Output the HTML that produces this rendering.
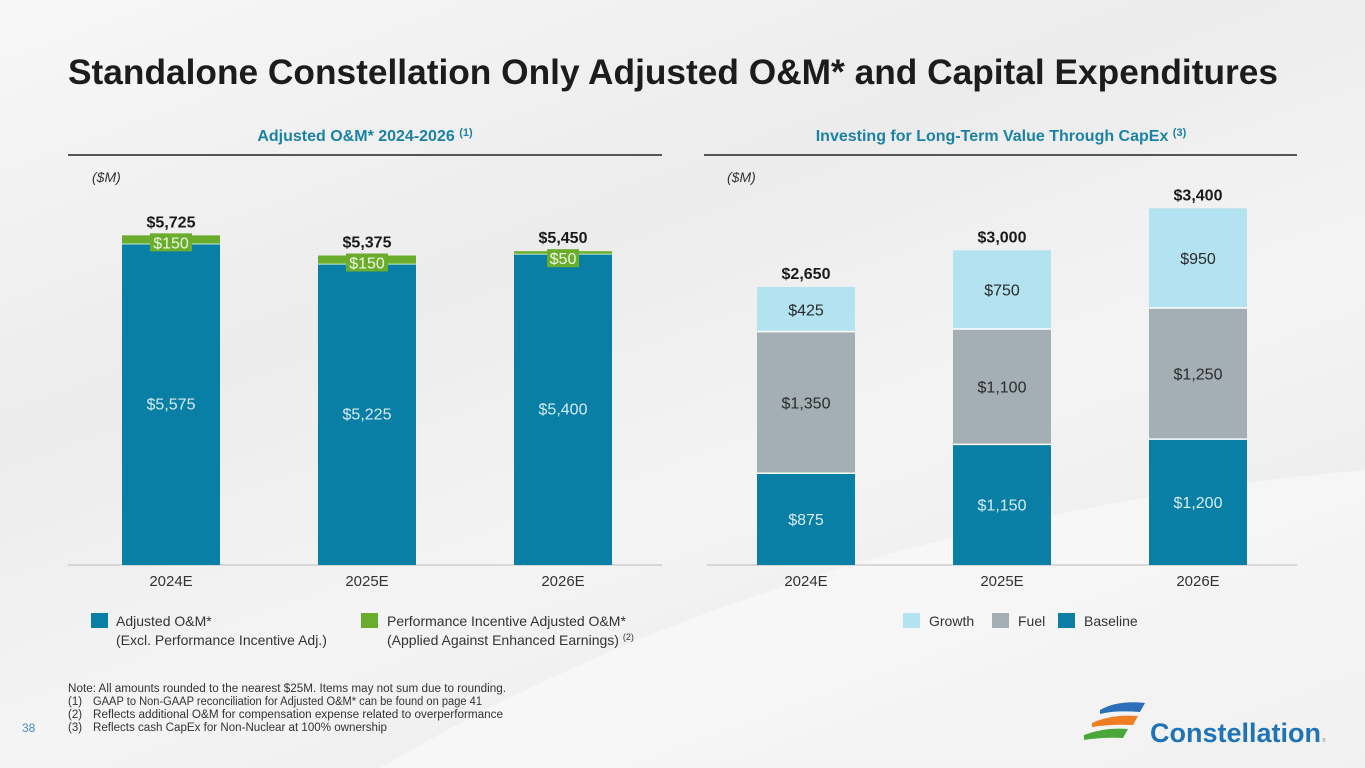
<!DOCTYPE html>
<html><head><meta charset="utf-8">
<style>
html,body{margin:0;padding:0;}
body{width:1365px;height:768px;overflow:hidden;position:relative;font-family:"Liberation Sans",sans-serif;
background:linear-gradient(160deg,#f7f7f7 0%,#ececec 35%,#f4f4f4 60%,#e6e6e6 100%);}
svg{position:absolute;left:0;top:0;}
</style></head>
<body>
<svg id="chart" width="1365" height="768">
  <path d="M380 768 Q800 520 1365 470 L1365 768 Z" fill="#ffffff" opacity="0.45"/>
  <text x="68" y="84" font-size="35" font-weight="bold" fill="#1c1c1c" textLength="1210" lengthAdjust="spacingAndGlyphs">Standalone Constellation Only Adjusted O&amp;M* and Capital Expenditures</text>
  <text x="365" y="141" font-size="16" font-weight="bold" fill="#1b82a5" text-anchor="middle">Adjusted O&amp;M* 2024-2026 <tspan font-size="11" dy="-5">(1)</tspan></text>
  <line x1="68" y1="155" x2="662" y2="155" stroke="#222" stroke-width="1.5"/>
  <text x="1001" y="141" font-size="16" font-weight="bold" fill="#1b82a5" text-anchor="middle">Investing for Long-Term Value Through CapEx <tspan font-size="11" dy="-5">(3)</tspan></text>
  <line x1="704" y1="155" x2="1297" y2="155" stroke="#222" stroke-width="1.5"/>
  <text x="92" y="182" font-size="14" font-style="italic" fill="#333">($M)</text>
  <text x="727" y="182" font-size="14" font-style="italic" fill="#333">($M)</text>
  <line x1="68" y1="565" x2="662" y2="565" stroke="#bbb" stroke-width="1"/>
  <line x1="707" y1="565" x2="1297" y2="565" stroke="#bbb" stroke-width="1"/>
  <g id="left"></g>
  <g id="right"></g>
  <rect x="91" y="613" width="17" height="15" fill="#0a7fa5"/>
  <text x="116" y="626" font-size="14" fill="#333">Adjusted O&amp;M*</text>
  <text x="116" y="645" font-size="14" fill="#333">(Excl. Performance Incentive Adj.)</text>
  <rect x="361" y="613" width="17" height="15" fill="#6aac2b"/>
  <text x="387" y="626" font-size="14" fill="#333">Performance Incentive Adjusted O&amp;M*</text>
  <text x="387" y="645" font-size="14" fill="#333">(Applied Against Enhanced Earnings) <tspan font-size="9" dy="-5">(2)</tspan></text>
  <rect x="903" y="613" width="17" height="15" fill="#b3e2f1"/>
  <text x="929" y="626" font-size="14" fill="#333">Growth</text>
  <rect x="992" y="613" width="17" height="15" fill="#a3aeb5"/>
  <text x="1018" y="626" font-size="14" fill="#333">Fuel</text>
  <rect x="1058" y="613" width="17" height="15" fill="#0a7fa5"/>
  <text x="1084" y="626" font-size="14" fill="#333">Baseline</text>
  <g font-size="11.5" fill="#333">
    <text x="68" y="692" textLength="438" lengthAdjust="spacingAndGlyphs">Note: All amounts rounded to the nearest $25M. Items may not sum due to rounding.</text>
    <text x="68" y="705">(1)</text>
    <text x="93" y="705" textLength="389" lengthAdjust="spacingAndGlyphs">GAAP to Non-GAAP reconciliation for Adjusted O&amp;M* can be found on page 41</text>
    <text x="68" y="718">(2)</text>
    <text x="93" y="718" textLength="410" lengthAdjust="spacingAndGlyphs">Reflects additional O&amp;M for compensation expense related to overperformance</text>
    <text x="68" y="731">(3)</text>
    <text x="93" y="731" textLength="294" lengthAdjust="spacingAndGlyphs">Reflects cash CapEx for Non-Nuclear at 100% ownership</text>
  </g>
  <text x="22" y="732" font-size="12" fill="#4a8cc0">38</text>
  <g>
    <path d="M1100 710 Q1118 700 1145 703 L1140 712 Q1115 710 1100 714 Z" fill="#2a6fb8"/>
    <path d="M1092 723 Q1112 714 1138 716 L1133 725 Q1110 724 1092 727 Z" fill="#ef7d22"/>
    <path d="M1084 735 Q1104 727 1128 729 L1123 738 Q1102 737 1084 740 Z" fill="#4aa83a"/>
    <text x="1150" y="742" font-size="27" font-weight="bold" fill="#1f74b8">Constellation</text>
    <text x="1322" y="742" font-size="5" fill="#888">®</text>
  </g>
</svg>
<script>
const leftCategories = ["2024E","2025E","2026E"];
const leftBase = [5575,5225,5400];
const leftIncentive = [150,150,50];
const leftTotals = ["$5,725","$5,375","$5,450"];
const rightCategories = ["2024E","2025E","2026E"];
const rightBaseline = [875,1150,1200];
const rightFuel = [1350,1100,1250];
const rightGrowth = [425,750,950];
const rightTotals = ["$2,650","$3,000","$3,400"];

const NS="http://www.w3.org/2000/svg";
const baseY=565;
function fmt(v){return "$"+v.toLocaleString("en-US");}
function mk(tag,attrs,parent,txt){const e=document.createElementNS(NS,tag);for(const k in attrs)e.setAttribute(k,attrs[k]);if(txt!==undefined)e.textContent=txt;parent.appendChild(e);return e;}
const yL=v=>v*(321/5575);
const yR=v=>v*(278/2650);
const xL=i=>122+i*196;
const xR=i=>757+i*196;
const W=98;

const gL=document.getElementById("left");
leftCategories.forEach((c,i)=>{
  const x=xL(i), hb=yL(leftBase[i]), hi=yL(leftIncentive[i]);
  const b=mk("rect",{x:x,y:baseY-hb,width:W,height:hb,fill:"#0a7fa5"},gL);
  
  
  const g=mk("rect",{x:x,y:baseY-hb-hi,width:W,height:hi,fill:"#6aac2b"},gL);
  
  
  mk("line",{x1:x,x2:x+W,y1:baseY-hb,y2:baseY-hb,stroke:"#cfe9d0","stroke-width":1},gL);
  const lb=mk("text",{x:x+W/2,y:baseY-hb/2+5,"font-size":16,fill:"#d8ecf3","text-anchor":"middle"},gL,fmt(leftBase[i]));
  
  
  const top=baseY-hb-hi;
  const lw=leftIncentive[i]>=100?42:32;
  mk("rect",{x:x+W/2-lw/2,y:top-2,width:lw,height:18,fill:"#6aac2b"},gL);
  const li=mk("text",{x:x+W/2,y:top+13,"font-size":16,fill:"#eef7e4","text-anchor":"middle"},gL,fmt(leftIncentive[i]));
  
  
  const t=mk("text",{x:x+W/2,y:top-8,"font-size":16,"font-weight":"bold",fill:"#1a1a1a","text-anchor":"middle"},gL,leftTotals[i]);
  
  
  const cl=mk("text",{x:x+W/2,y:586,"font-size":15,fill:"#333","text-anchor":"middle"},gL,c);
  
  
});

const gR=document.getElementById("right");
rightCategories.forEach((c,i)=>{
  const x=xR(i);
  const segs=[[rightBaseline[i],"#0a7fa5","#d8ecf3","baseline"],[rightFuel[i],"#a3aeb5","#2a2a2a","fuel"],[rightGrowth[i],"#b3e2f1","#2a2a2a","growth"]];
  let y=baseY;
  segs.forEach(s=>{
    const h=yR(s[0]);
    const r=mk("rect",{x:x,y:y-h,width:W,height:h,fill:s[1]},gR);
    
    
    if(y<baseY) mk("line",{x1:x,x2:x+W,y1:y,y2:y,stroke:"#ffffff","stroke-width":1.5},gR);
    const l=mk("text",{x:x+W/2,y:y-h/2+6,"font-size":16,fill:s[2],"text-anchor":"middle"},gR,fmt(s[0]));
    
    
    y-=h;
  });
  const t=mk("text",{x:x+W/2,y:y-8,"font-size":16,"font-weight":"bold",fill:"#1a1a1a","text-anchor":"middle"},gR,rightTotals[i]);
  
  
  const cl=mk("text",{x:x+W/2,y:586,"font-size":15,fill:"#333","text-anchor":"middle"},gR,c);
  
  
});
</script>
</body></html>
